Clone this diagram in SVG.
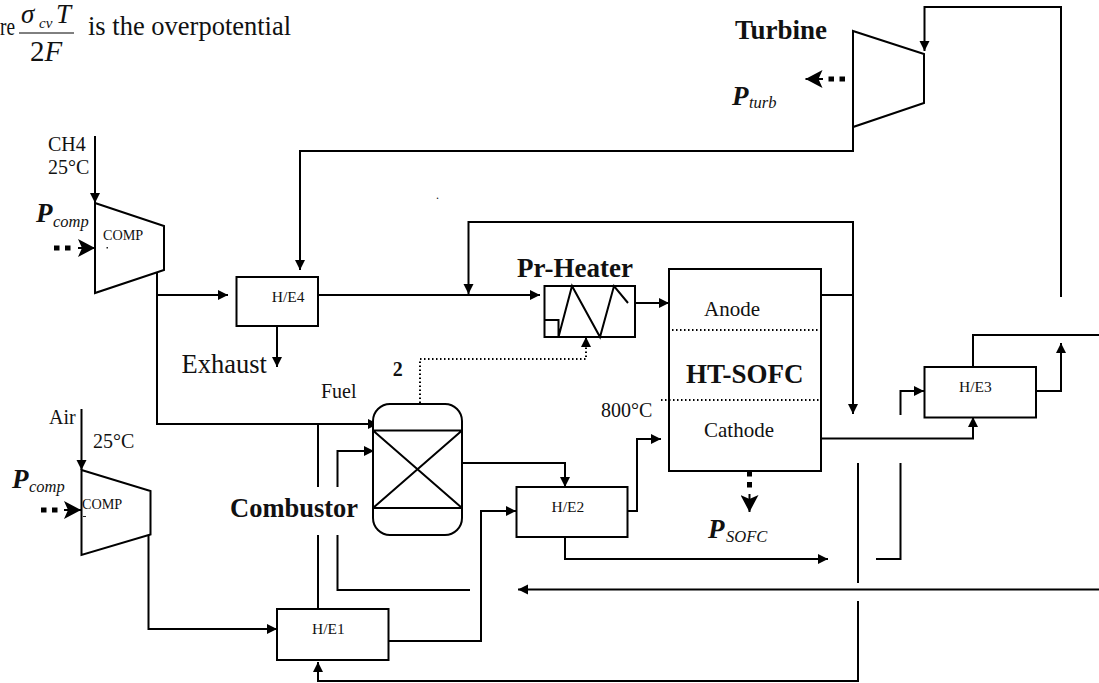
<svg xmlns="http://www.w3.org/2000/svg" width="1099" height="683" viewBox="0 0 1099 683">
<style>
text{font-family:"Liberation Serif","Times New Roman",serif;fill:#111}
.s{fill:none;stroke:#000;stroke-width:2}
.b{fill:#fff;stroke:#000;stroke-width:2}
.a{marker-end:url(#ah)}
.g{marker-end:url(#ahb)}
.d{fill:none;stroke:#000;stroke-width:2;stroke-dasharray:1.5 2.5}
.h{fill:none;stroke:#000;stroke-width:5;stroke-dasharray:5.5 5.5}
.lab{font-size:15.500px}
.cmp{font-size:14.200px}
.m{font-size:20px}
.m2{font-size:21px}
.big{font-size:27px;font-weight:bold}
.pb{font-size:27px;font-weight:bold;font-style:italic}
.sub{font-size:16.500px;font-style:italic}
</style>
<defs>
<marker id="ah" markerUnits="userSpaceOnUse" markerWidth="11" markerHeight="11" refX="10" refY="5" orient="auto"><path d="M0 0L10 5L0 10z" fill="#000"/></marker>
<marker id="ahb" markerUnits="userSpaceOnUse" markerWidth="18" markerHeight="18" refX="17" refY="9" orient="auto"><path d="M0 0L17 9L0 18L4 9z" fill="#000"/></marker>
</defs>

<g id="connectors">
<path class="s a" d="M95 136V203"/>
<path class="s a" d="M157 270V295H228"/>
<path class="s a" d="M157 295V424H378"/>
<path class="s a" d="M318 295H540"/>
<path class="s a" d="M853 127V151H300V270"/>
<path class="s a" d="M853 295V222H468.500V294"/>
<path class="s a" d="M821 295H853V414"/>
<path class="s a" d="M628 303H669"/>
<path class="s a" d="M277 326V367"/>
<path class="d" d="M420 403V359H586V347"/>
<path class="s a" d="M586 347V337"/>
<path class="s" d="M318 424V487M318 535V609"/>
<path class="s a" d="M337.500 487V451H374"/>
<path class="s" d="M337.500 535V590H470"/>
<path class="s a" d="M81.500 409V470"/>
<path class="s a" d="M148.500 535V629H277"/>
<path class="s a" d="M462 463H565V487"/>
<path class="s a" d="M389 641H481V511H516"/>
<path class="s a" d="M628 511H637V439H661"/>
<path class="s a" d="M565 537V559H828"/>
<path class="s a" d="M1099 589.500H518"/>
<path class="s" d="M858 463V583"/>
<path class="s a" d="M858 601V681H318V662"/>
<path class="s" d="M900.500 463V559H876"/>
<path class="s a" d="M900.500 415V391H924"/>
<path class="s a" d="M821 438.500H973V417"/>
<path class="s a" d="M1036 391H1061V343"/>
<path class="s" d="M973 367V335H1099"/>
<path class="s a" d="M1061 297V7H924.500V51"/>
<path class="h" d="M54 248H71"/><path class="s g" d="M78 248H95"/>
<path class="h" d="M41 510H58"/><path class="s g" d="M64 510H81"/>
<path class="h" d="M845 79H828"/><path class="s g" d="M823 79H805.500"/>
<path class="h" d="M749.500 471V488"/><path class="s g" d="M749.500 494V512"/>
</g>

<g id="compressor1"><path class="b" d="M95 203L164 226V270L95 293z"/><text class="cmp" x="103" y="240">COMP</text><rect x="106.500" y="247" width="1.500" height="1.500" fill="#222"/></g>
<g id="compressor2"><path class="b" d="M81.500 470L150.500 491V534.500L81.500 555z"/><text class="cmp" x="82" y="509">COMP</text><rect x="83" y="516" width="3" height="1" fill="#222"/></g>
<g id="turbine"><path class="b" d="M853 31L924 54V103L853 127z"/></g>
<g id="he4"><rect class="b" x="236.500" y="277" width="81.500" height="49"/><text class="lab" x="271.700" y="302">H/E4</text></g>
<g id="he1"><rect class="b" x="277" y="609" width="111.500" height="51"/><text class="lab" x="312" y="634">H/E1</text></g>
<g id="he2"><rect class="b" x="516.500" y="487" width="111" height="50"/><text class="lab" x="551.500" y="512">H/E2</text></g>
<g id="he3"><rect class="b" x="924.500" y="367" width="111.500" height="50.500"/><text class="lab" x="959" y="392">H/E3</text></g>
<g id="preheater"><rect class="b" x="544.500" y="286" width="90.500" height="51"/><path class="s" d="M544.500 320H558.500V337L572 286L600 337L614 286L628 303"/></g>
<g id="combustor"><rect class="b" x="373" y="404" width="89" height="131" rx="17"/><path class="s" d="M373 430.500H462M373 508H462M373 430.500L462 508M462 430.500L373 508"/></g>
<g id="sofc"><rect class="b" x="669" y="269" width="152" height="202"/><path class="d" d="M672 330H820M661 400H820"/><text class="m2" x="704" y="316">Anode</text><text class="big" x="686" y="382.500">HT-SOFC</text><text class="m2" x="704" y="437">Cathode</text></g>

<g id="labels">
<text x="0" y="35" textLength="15" lengthAdjust="spacingAndGlyphs" style="font-size:26px">re</text>
<text x="21" y="23" style="font-size:27px;font-style:italic">σ</text>
<text x="39" y="28" style="font-size:15px;font-style:italic">cv</text>
<text x="56" y="23" style="font-size:27px;font-style:italic">T</text>
<path d="M19 33H74" stroke="#000" stroke-width="1"/>
<text x="30" y="61" style="font-size:29px">2<tspan font-style="italic">F</tspan></text>
<text x="88" y="35" style="font-size:26.500px">is the overpotential</text>
<text class="m" x="48" y="151">CH4</text>
<text class="m" x="48" y="174">25°C</text>
<text class="pb" x="36" y="222">P</text><text class="sub" x="53" y="227">comp</text>
<text class="m" x="49" y="424">Air</text>
<text class="m" x="93" y="448">25°C</text>
<text class="pb" x="12" y="488">P</text><text class="sub" x="29" y="492">comp</text>
<text class="big" style="font-size:26.500px" x="230" y="517">Combustor</text>
<text class="m" x="321" y="397.500">Fuel</text>
<text x="392.700" y="375.500" style="font-size:20px;font-weight:bold">2</text>
<text x="436" y="199" style="font-size:12px">.</text>
<text x="181.500" y="372.500" style="font-size:26.500px">Exhaust</text>
<text class="big" x="517" y="277">Pr-Heater</text>
<text class="m" x="601" y="417">800°C</text>
<text class="big" x="735" y="39">Turbine</text>
<text class="pb" x="732" y="105">P</text><text class="sub" x="749" y="108">turb</text>
<text class="pb" x="708" y="538">P</text><text class="sub" x="726" y="542">SOFC</text>
</g>
</svg>
